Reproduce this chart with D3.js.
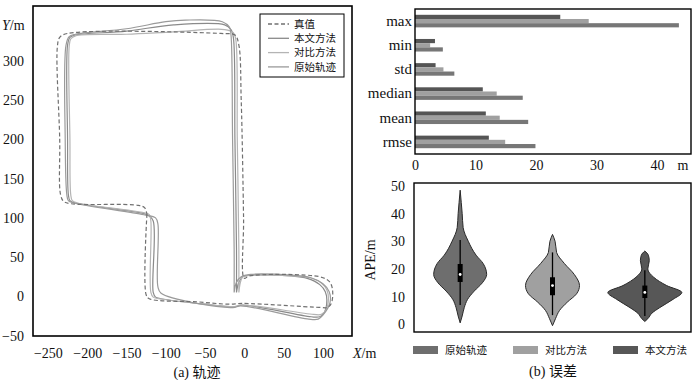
<!DOCTYPE html>
<html>
<head>
<meta charset="utf-8">
<script src="https://cdn.jsdelivr.net/npm/d3@7"></script>
<style>
body { margin: 0; background: #fff; }
svg text { font-family: "Liberation Serif", "Noto Sans CJK SC", serif; fill: #111; }
.cjk { font-family: "Noto Sans CJK SC", sans-serif; }
.axis .domain { display: none; }
</style>
</head>
<body>
<script>
// ---- trajectories (m) ----
var truthPath = [[-124,105],[-125,2],[-121,-3],[-60,-7],[-20,-10],[-2,-9],[95,-14],[106,-14],[111,-8],[112,10],[108,19],[96,25],[6,26],[0,23],
  [-1,100],[-4,250],[-7,320],[-12,333],[-30,335],[-225,335],[-235,330],[-238,318],[-235,200],[-234,130],[-230,121],[-220,118],[-135,116],[-127,113],[-124,105]];
var oursPath = [[-10,5],[-10,60],[-12,200],[-14,330],[-17,340],[-25,346],[-90,346],[-150,338],[-215,333],[-222,330],[-225,320],[-225,200],[-224,130],[-222,122],[-215,119],
  [-130,106],[-122,103],[-116,96],[-116,5],[-113,-1],[-106,-3],[-50,-10],[-12,-13],[-3,-11],[85,-26],[96,-26],[102,-20],[105,-5],[103,6],[96,15],[80,23],[60,26],[8,27],[-2,25],[-7,18],[-10,5]];
var comparePath = [[-7,5],[-7,60],[-9,200],[-11,328],[-14,336],[-25,340],[-90,337],[-150,334],[-215,332],[-221,328],[-223,318],[-222,200],[-221,130],[-219,122],[-212,119],
  [-130,107],[-121,104],[-119,96],[-119,5],[-116,-1],[-108,-3],[-50,-10],[-12,-13],[-3,-11],[88,-23],[98,-23],[104,-17],[107,-3],[105,8],[98,17],[82,24],[60,26],[8,27],[-2,25],[-5,18],[-7,5]];
var rawPath = [[-13,5],[-13,60],[-15,200],[-17,333],[-19,343],[-28,350],[-75,352],[-100,350],[-150,341],[-215,334],[-223,331],[-227,320],[-228,200],[-226,130],[-224,122],[-217,119],
  [-128,104],[-113,100],[-110,92],[-110,12],[-106,4],[-60,-9],[-12,-14],[-5,-12],[82,-29],[94,-29],[100,-24],[109,-8],[108,6],[100,16],[84,24],[60,27],[8,28],[-4,25],[-10,18],[-13,5]];
var trajNames = ["真值", "本文方法", "对比方法", "原始轨迹"];
var trajX = d3.range(-250, 101, 50), trajY = d3.range(-50, 301, 50);

// ---- error statistics (m) ----
var statNames = ["max", "min", "std", "median", "mean", "rmse"];
var oursStats = [24.0, 3.3, 3.4, 11.2, 11.7, 12.2];
var compareStats = [28.7, 2.5, 4.7, 13.5, 14.0, 14.9];
var rawStats = [43.6, 4.6, 6.5, 17.8, 18.7, 19.9];
var statTicks = [0, 10, 20, 30, 40];

// ---- APE distributions: [APE, relative density] ----
var methods = ["原始轨迹", "对比方法", "本文方法"];
var rawDensity = [[48.5,0],[44,0.03],[40,0.055],[35,0.08],[30,0.22],[25,0.43],[22,0.62],[18,0.716],[15,0.6],[12,0.38],[9,0.2],[6,0.11],[3,0.055],[0.5,0]];
var compareDensity = [[32.5,0],[30,0.07],[26,0.11],[22,0.32],[18,0.59],[14,0.73],[11,0.65],[8,0.4],[5,0.19],[2,0.08],[-0.5,0]];
var oursDensity = [[26.5,0],[25,0.095],[23,0.12],[20,0.08],[17,0.24],[14,0.59],[11.5,1.0],[9,0.76],[6,0.4],[4,0.19],[2,0.08],[1,0]];
var q1 = [15.3, 10.5, 9.5], q3 = [21.8, 17, 14], medians = [18, 14, 11.5];
var whiskLo = [7, 3.3, 3], whiskHi = [30.5, 26, 19.5];
var apeTicks = [0, 10, 20, 30, 40, 50];

var svg = d3.select("body").append("svg")
    .attr("width", 700)
    .attr("height", 380);

// ================= (a) trajectories =================
var x = d3.scaleLinear().domain([-269, 137]).range([33, 352]),
    y = d3.scaleLinear().domain([-50.5, 370]).range([336, 6]);

var trajStyle = [
  {data: truthPath, color: "#707070", dash: "4,2.5"},
  {data: oursPath, color: "#8a8a8a", dash: null},
  {data: comparePath, color: "#b4b4b4", dash: null},
  {data: rawPath, color: "#9a9a9a", dash: null}
];

var line = d3.line()
    .x((d) => x(d[0]))
    .y((d) => y(d[1]))
    .curve(d3.curveCatmullRom.alpha(0.5));

svg.append("g").selectAll("path")
    .data(trajStyle.slice(1).concat([trajStyle[0]]))
  .enter().append("path")
    .attr("d", (d) => line(d.data))
    .attr("fill", "none")
    .attr("stroke", (d) => d.color)
    .attr("stroke-width", 1.2)
    .attr("stroke-dasharray", (d) => d.dash);

svg.append("g")
    .attr("class", "axis")
    .attr("transform", "translate(0,336)")
    .call(d3.axisBottom(x).tickValues(trajX).tickSize(0).tickPadding(12))
    .selectAll("text").style("font-size", "14px");

svg.append("g")
    .attr("class", "axis")
    .attr("transform", "translate(33,0)")
    .call(d3.axisLeft(y).tickValues(trajY).tickSize(0).tickPadding(9))
    .selectAll("text").style("font-size", "14px");

svg.append("rect")
    .attr("x", 33).attr("y", 6)
    .attr("width", 319).attr("height", 330)
    .attr("fill", "none").attr("stroke", "#000").attr("stroke-width", 1.6);

var yl = svg.append("text").attr("x", 2).attr("y", 30).style("font-size", "14px");
yl.append("tspan").style("font-style", "italic").text("Y");
yl.append("tspan").text("/m");
var xl = svg.append("text").attr("x", 353).attr("y", 358).style("font-size", "14px");
xl.append("tspan").style("font-style", "italic").text("X");
xl.append("tspan").text("/m");

svg.append("text")
    .attr("x", 197).attr("y", 377)
    .attr("text-anchor", "middle")
    .style("font-size", "14px")
    .text("(a) 轨迹");

var lg = svg.append("g");
lg.append("rect")
    .attr("x", 260).attr("y", 14).attr("width", 84).attr("height", 63)
    .attr("fill", "#fff").attr("stroke", "#000").attr("stroke-width", 1);
var lgItem = lg.selectAll("g.item")
    .data(trajStyle)
  .enter().append("g")
    .attr("transform", (d, i) => `translate(0,${24 + i * 14.3})`);
lgItem.append("line")
    .attr("x1", 268).attr("x2", 289)
    .attr("stroke", (d) => d.color)
    .attr("stroke-width", 1.3)
    .attr("stroke-dasharray", (d) => d.dash);
lgItem.append("text")
    .attr("class", "cjk")
    .attr("x", 294).attr("dy", "0.36em")
    .style("font-size", "10.5px")
    .text((d, i) => trajNames[i]);

// ================= (b) bar statistics =================
var bx = d3.scaleLinear().domain([0, 45.6]).range([415, 691]),
    by = d3.scaleBand().domain(statNames).range([9, 154]).paddingInner(0.48).paddingOuter(0.24),
    series = [
      {values: oursStats, color: "#555555"},
      {values: compareStats, color: "#a0a0a0"},
      {values: rawStats, color: "#777777"}
    ],
    sub = d3.scaleBand().domain(d3.range(series.length)).range([0, by.bandwidth()]);

svg.append("g").selectAll("g")
    .data(series)
  .enter().append("g")
    .attr("fill", (d) => d.color)
  .selectAll("rect")
    .data((d, i) => d.values.map((v, j) => ({v: v, s: i, c: statNames[j]})))
  .enter().append("rect")
    .attr("x", bx(0))
    .attr("y", (d) => by(d.c) + sub(d.s))
    .attr("width", (d) => bx(d.v) - bx(0))
    .attr("height", sub.bandwidth());

svg.append("g")
    .attr("class", "axis")
    .attr("transform", "translate(0,154)")
    .call(d3.axisBottom(bx).tickValues(statTicks).tickSize(0).tickPadding(6))
    .selectAll("text").style("font-size", "14px");

svg.append("g")
    .attr("class", "axis")
    .attr("transform", "translate(415,0)")
    .call(d3.axisLeft(by).tickSize(0).tickPadding(3))
    .selectAll("text").style("font-size", "15px");

svg.append("rect")
    .attr("x", 415).attr("y", 9)
    .attr("width", 276).attr("height", 145)
    .attr("fill", "none").attr("stroke", "#000").attr("stroke-width", 1.4);

svg.append("text")
    .attr("x", 683).attr("y", 170)
    .attr("text-anchor", "middle")
    .style("font-size", "14px")
    .text("m");

// ================= (b) violins =================
var vx = d3.scaleBand().domain(methods).range([414, 691]),
    vy = d3.scaleLinear().domain([-2.8, 51.1]).range([332, 183]),
    vw = d3.scaleLinear().domain([0, 1]).range([0, 37]),
    violins = [
      {density: rawDensity, color: "#6e6e6e"},
      {density: compareDensity, color: "#a0a0a0"},
      {density: oursDensity, color: "#575757"}
    ];

var vg = svg.append("g").selectAll("g")
    .data(violins)
  .enter().append("g")
    .attr("transform", (d, i) => `translate(${vx(methods[i]) + vx.bandwidth() / 2},0)`);

vg.append("path")
    .attr("d", (d) => d3.area()
        .y((p) => vy(p[0]))
        .x0((p) => -vw(p[1]))
        .x1((p) => vw(p[1]))
        .curve(d3.curveMonotoneY)(d.density))
    .attr("fill", (d) => d.color)
    .attr("stroke", "#2a2a2a")
    .attr("stroke-width", 1);

vg.append("line")
    .attr("y1", (d, i) => vy(whiskLo[i]))
    .attr("y2", (d, i) => vy(whiskHi[i]))
    .attr("stroke", "#000")
    .attr("stroke-width", 1.3);

vg.append("rect")
    .attr("x", -2.5).attr("width", 5)
    .attr("y", (d, i) => vy(q3[i]))
    .attr("height", (d, i) => vy(q1[i]) - vy(q3[i]))
    .attr("fill", "#000");

vg.append("circle")
    .attr("cy", (d, i) => vy(medians[i]))
    .attr("r", 1.4)
    .attr("fill", "#fff");

svg.append("g")
    .attr("class", "axis")
    .attr("transform", "translate(414,0)")
    .call(d3.axisLeft(vy).tickValues(apeTicks).tickSize(0).tickPadding(9))
    .selectAll("text").style("font-size", "14px");

svg.append("rect")
    .attr("x", 414).attr("y", 183)
    .attr("width", 277).attr("height", 149)
    .attr("fill", "none").attr("stroke", "#000").attr("stroke-width", 1.4);

svg.append("text")
    .attr("transform", "translate(375,260) rotate(-90)")
    .attr("text-anchor", "middle")
    .style("font-size", "14px")
    .text("APE/m");

var vl = svg.append("g").selectAll("g")
    .data(violins)
  .enter().append("g")
    .attr("transform", (d, i) => `translate(${413 + i * 100},350)`);
vl.append("rect")
    .attr("y", -4).attr("width", 25).attr("height", 8)
    .attr("fill", (d) => d.color);
vl.append("text")
    .attr("class", "cjk")
    .attr("x", 32).attr("dy", "0.36em")
    .style("font-size", "10.5px")
    .text((d, i) => methods[i]);

svg.append("text")
    .attr("x", 553).attr("y", 376)
    .attr("text-anchor", "middle")
    .style("font-size", "14px")
    .text("(b) 误差");
</script>
</body>
</html>
